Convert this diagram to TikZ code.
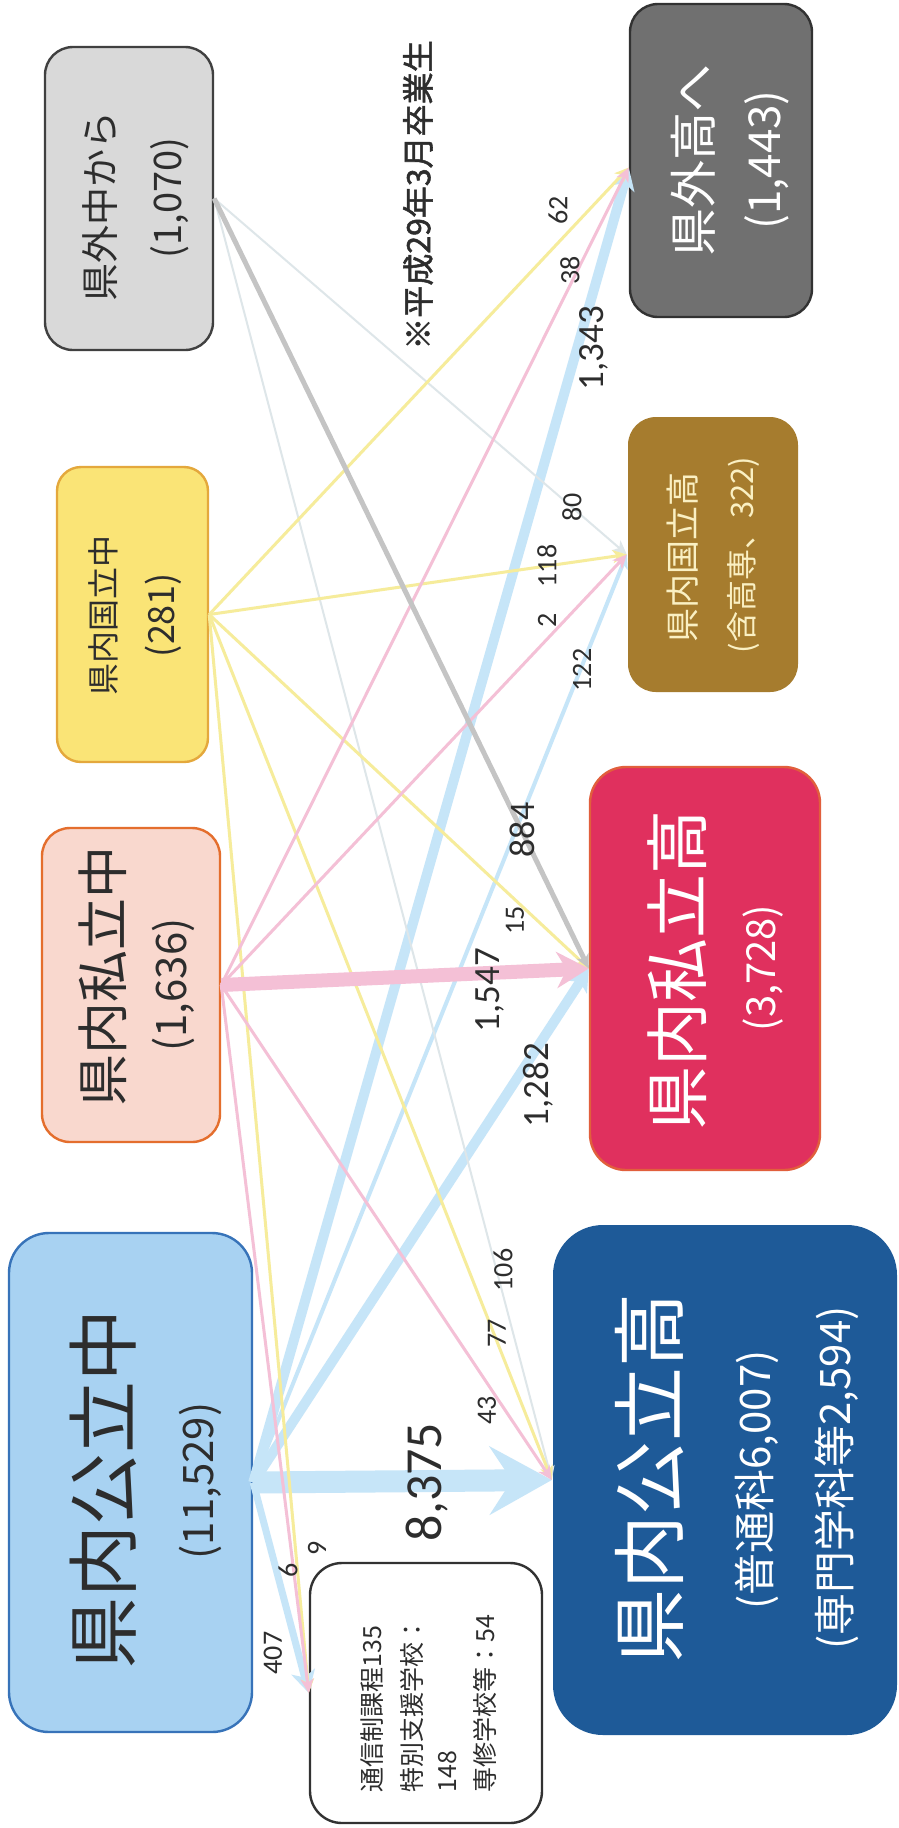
\documentclass[tikz,border=0pt]{standalone}
\usepackage{fontspec}
\setmainfont{Carlito}
\newfontfamily\cjk{Noto Sans CJK JP}
\newfontfamily\cjkb[FakeBold=1.6]{Noto Sans CJK JP}
\usetikzlibrary{arrows.meta,fit}
\definecolor{fblue}{RGB}{198,229,248}
\definecolor{fpink}{RGB}{244,192,214}
\definecolor{fyellow}{RGB}{246,236,155}
\definecolor{fgray}{RGB}{196,196,196}
\definecolor{ffaint}{RGB}{222,230,233}
\definecolor{labc}{RGB}{45,45,45}
\definecolor{cGaiChu}{RGB}{217,217,217}
\definecolor{dGaiChu}{RGB}{64,64,64}
\definecolor{cGaiKo}{RGB}{112,112,112}
\definecolor{dGaiKo}{RGB}{50,50,50}
\definecolor{cKokuChu}{RGB}{250,228,118}
\definecolor{dKokuChu}{RGB}{228,168,60}
\definecolor{cKokuKo}{RGB}{166,124,46}
\definecolor{tKokuKo}{RGB}{250,240,195}
\definecolor{cShiChu}{RGB}{249,216,206}
\definecolor{dShiChu}{RGB}{228,110,45}
\definecolor{cShiKo}{RGB}{224,48,94}
\definecolor{dShiKo}{RGB}{225,95,60}
\definecolor{cKoChu}{RGB}{168,210,242}
\definecolor{dKoChu}{RGB}{55,115,185}
\definecolor{cKoKo}{RGB}{30,90,152}
\newcommand\jpf[1]{\cjk\fontsize{#1}{#1}\selectfont}
\newcommand\jpbf[1]{\cjkb\fontsize{#1}{#1}\selectfont}
\newcommand\numf[1]{\fontsize{#1}{#1}\selectfont}
\begin{document}
\begin{tikzpicture}[x=0.5pt,y=-0.5pt,
  box/.style={inner sep=0pt, line width=1.2pt},
  txt/.style={rotate=90, inner sep=0pt, anchor=center},
  lab/.style={rotate=90, inner sep=0pt, anchor=center, text=labc, font=\numf{14}},
  midlab/.style={rotate=90, inner sep=0pt, anchor=center, text=labc, font=\numf{18.5}},
  tipS/.style={-{Stealth[length=7pt,width=6.5pt,inset=2pt]}},
  tipM/.style={-{Stealth[length=11pt,width=12pt,inset=3pt]}},
  tipL/.style={-{Stealth[length=16pt,width=18pt,inset=5pt]}},
  tipXL/.style={-{Stealth[length=31pt,width=34pt,inset=11pt]}}
]
\fill[white] (0,0) rectangle (899,1828);
\useasboundingbox (0,0) rectangle (899,1828);

% boxes
\node[box, fit={(45,47)(213,350)}, fill=cGaiChu, draw=dGaiChu, rounded corners=14pt] (gaichu) {};
\node[box, fit={(630,4)(812,317)}, fill=cGaiKo, draw=dGaiKo, rounded corners=14pt] (gaiko) {};
\node[box, fit={(57,467)(208,762)}, fill=cKokuChu, draw=dKokuChu, rounded corners=12pt] (kokuchu) {};
\node[box, fit={(628,417)(798,692)}, fill=cKokuKo, rounded corners=14pt] (kokuko) {};
\node[box, fit={(42,828)(220,1142)}, fill=cShiChu, draw=dShiChu, rounded corners=14pt] (shichu) {};
\node[box, fit={(590,767)(820,1170)}, fill=cShiKo, draw=dShiKo, rounded corners=18pt] (shiko) {};
\node[box, fit={(9,1233)(252,1732)}, fill=cKoChu, draw=dKoChu, rounded corners=20pt] (kochu) {};
\node[box, fit={(553,1225)(897,1735)}, fill=cKoKo, rounded corners=25pt] (koko) {};
\node[box, fit={(310,1563)(542,1823)}, fill=white, draw=dGaiKo, rounded corners=16pt] (small) {};

\coordinate (gaikoIn) at ([yshift=-3.5pt]gaiko.west);

% connectors: blue
\draw[draw=fblue, line width=3.5pt, tipM] (kochu.east) -- (small.west);
\draw[draw=fblue, line width=2pt, tipS] (kochu.east) -- (kokuko.west);
\draw[draw=fblue, line width=5pt, tipM] (kochu.east) -- (gaikoIn);
\draw[draw=fblue, line width=5pt, tipM] (kochu.east) -- (shiko.west);
\draw[draw=fblue, line width=11pt, tipXL] (kochu.east) -- (koko.west);
% faint gray
\draw[draw=ffaint, line width=1pt, tipS] (gaichu.east) -- (kokuko.west);
\draw[draw=ffaint, line width=1pt, tipS] (gaichu.east) -- (koko.west);
% yellow
\draw[draw=fyellow, line width=1.5pt, tipS] (kokuchu.east) -- (gaikoIn);
\draw[draw=fyellow, line width=1.5pt, tipS] (kokuchu.east) -- (kokuko.west);
\draw[draw=fyellow, line width=1.5pt, tipS] (kokuchu.east) -- (shiko.west);
\draw[draw=fyellow, line width=1.5pt, tipS] (kokuchu.east) -- (koko.west);
\draw[draw=fyellow, line width=1.5pt, tipS] (kokuchu.east) -- (small.west);
% pink
\draw[draw=fpink, line width=1.5pt, tipS] (shichu.east) -- (gaikoIn);
\draw[draw=fpink, line width=1.5pt, tipS] (shichu.east) -- (kokuko.west);
\draw[draw=fpink, line width=1.5pt, tipS] (shichu.east) -- (koko.west);
\draw[draw=fpink, line width=1.5pt, tipS] (shichu.east) -- (small.west);
\draw[draw=fpink, line width=7pt, tipL] (shichu.east) -- (shiko.west);
% gray
\draw[draw=fgray, line width=2.5pt, tipS] (gaichu.east) -- (shiko.west);

% box texts
\node[txt, text=labc, font=\jpf{19}] (tGaiChu1) at (100,206) {県外中から};
\node[txt, text=labc, font=\jpf{19}] (tGaiChu2) at (170,198) {(1,070)};
\node[txt, text=white, font=\jpf{24}] (tGaiKo1) at (693,160) {県外高へ};
\node[txt, text=white, font=\jpf{22}] (tGaiKo2) at (767,160) {(1,443)};
\node[txt, text=labc, font=\jpf{16}] (tKokuChu1) at (103,615) {県内国立中};
\node[txt, text=labc, font=\jpf{18}] (tKokuChu2) at (163,615) {(281)};
\node[txt, text=tKokuKo, font=\jpf{17}] (tKokuKo1) at (683,557) {県内国立高};
\node[txt, text=tKokuKo, font=\jpf{15.5}] (tKokuKo2) at (743,555) {(含高専、322)};
\node[txt, text=labc, font=\jpf{26}] (tShiChu1) at (103,976) {県内私立中};
\node[txt, text=labc, font=\jpf{21}] (tShiChu2) at (173,985) {(1,636)};
\node[txt, text=white, font=\jpf{32}] (tShiKo1) at (677,970) {県内私立高};
\node[txt, text=white, font=\jpf{20}] (tShiKo2) at (763,968) {(3,728)};
\node[txt, text=labc, font=\jpf{36}] (tKoChu1) at (103,1489) {県内公立中};
\node[txt, text=labc, font=\jpf{21}] (tKoChu2) at (200,1481) {(11,529)};
\node[txt, text=white, font=\jpf{37}] (tKoKo1) at (650,1478) {県内公立高};
\node[txt, text=white, font=\jpf{21}] (tKoKo2) at (757,1480) {(普通科6,007)};
\node[txt, text=white, font=\jpf{21}] (tKoKo3) at (837,1478) {(専門学科等2,594)};

% small box text
\node[rotate=90, anchor=west, inner sep=0pt, text=labc, font=\jpf{12.5}] (s1) at (372,1793) {通信制課程135};
\node[rotate=90, anchor=west, inner sep=0pt, text=labc, font=\jpf{12.5}] (s2) at (412,1793) {特別支援学校：};
\node[rotate=90, anchor=west, inner sep=0pt, text=labc, font=\jpf{12.5}] (s3) at (448,1793) {148};
\node[rotate=90, anchor=west, inner sep=0pt, text=labc, font=\jpf{12.5}] (s4) at (485,1793) {専修学校等：54};

% note
\node[txt, text=labc, font=\jpbf{16}] (note) at (418,195) {※平成29年3月卒業生};

% flow labels
\node[lab] (l62) at (558,210) {62};
\node[lab] (l38) at (570,270) {38};
\node[midlab] (l1343) at (594,348) {1,343};
\node[lab] (l80) at (572,507) {80};
\node[lab] (l118) at (547,566) {118};
\node[lab] (l2) at (547,620) {2};
\node[lab] (l122) at (582,670) {122};
\node[midlab, font=\numf{18}] (l884) at (522,830) {884};
\node[lab] (l15) at (515,920) {15};
\node[midlab] (l1547) at (490,990) {1,547};
\node[midlab] (l1282) at (538,1085) {1,282};
\node[lab] (l106) at (503,1270) {106};
\node[lab] (l77) at (497,1333) {77};
\node[lab] (l43) at (487,1410) {43};
\node[lab, font=\numf{26}] (l8375) at (427,1482) {8,375};
\node[lab] (l9) at (317,1548) {9};
\node[lab] (l6) at (288,1570) {6};
\node[lab] (l407) at (273,1653) {407};
\end{tikzpicture}
\end{document}
